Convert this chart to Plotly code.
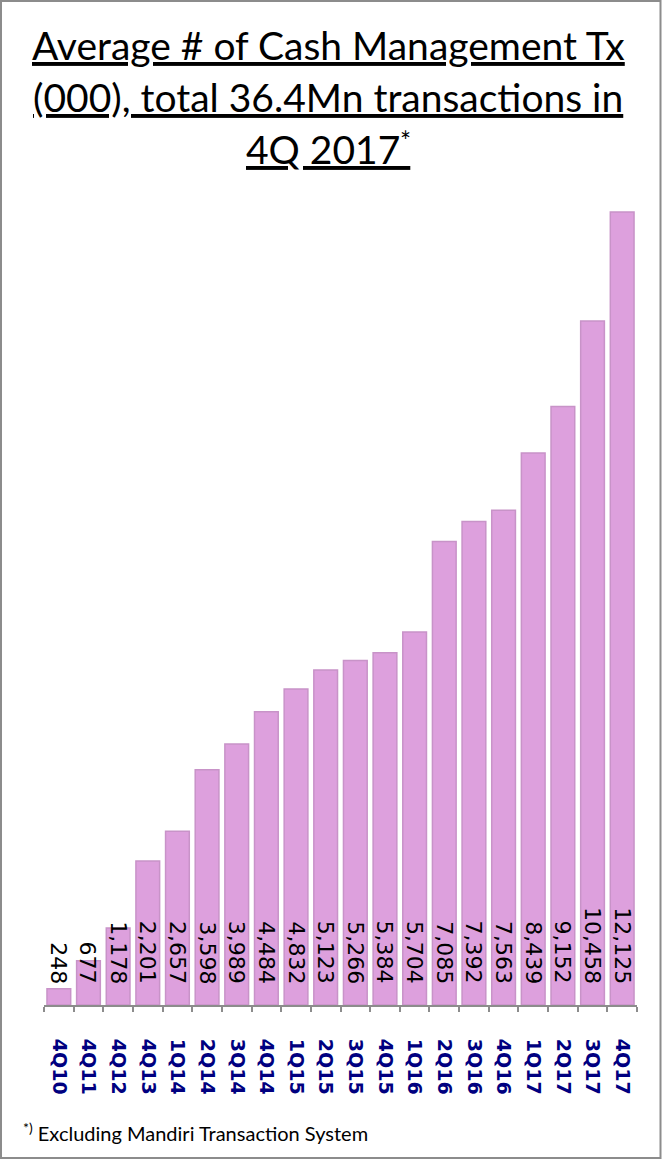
import plotly.graph_objects as go

# Quarterly average cash management transactions, in thousands
quarters = ["4Q10", "4Q11", "4Q12", "4Q13", "1Q14", "2Q14", "3Q14", "4Q14",
            "1Q15", "2Q15", "3Q15", "4Q15", "1Q16", "2Q16", "3Q16", "4Q16",
            "1Q17", "2Q17", "3Q17", "4Q17"]
transactions = [248, 677, 1178, 2201, 2657, 3598, 3989, 4484,
                4832, 5123, 5266, 5384, 5704, 7085, 7392, 7563,
                8439, 9152, 10458, 12125]

title_lines = ["Average # of Cash Management Tx",
               "(000), total 36.4Mn transactions in",
               "4Q 2017\u00a0"]
title_mark = "*"
footnote = "<sup>*)</sup> Excluding Mandiri Transaction System"

W, H = 662, 1159
ML, MR, MT, MB = 44, 25, 200, 154
PW, PH = W - ML - MR, H - MT - MB


def px_x(px):
    """pixel column -> paper x"""
    return (px - ML) / PW


def px_y(py):
    """pixel row -> paper y"""
    return (H - MB - py) / PH


fig = go.Figure()
fig.add_trace(go.Bar(
    x=quarters,
    y=transactions,
    marker=dict(color="#DDA0DD", line=dict(color="#C893C8", width=1.5)),
    width=0.8,
    hoverinfo="x+y",
))

# value labels, rotated and sitting just above the baseline
for q, v in zip(quarters, transactions):
    fig.add_annotation(
        x=q, y=0, xref="x", yref="y",
        text=f"{v:,}", textangle=90, showarrow=False,
        yanchor="bottom", xanchor="center", yshift=19,
        font=dict(family="DejaVu Sans", size=22, color="#000000"),
    )

# underlined title, one annotation per line, centred on the page
title_centres = [45, 97, 149]
for line, cy in zip(title_lines, title_centres):
    fig.add_annotation(
        x=px_x(328), xref="paper", y=px_y(cy), yref="paper",
        text=line, showarrow=False, xanchor="center", yanchor="middle",
        font=dict(family="Lato", size=39, color="#000000", lineposition="under"),
    )
fig.add_annotation(
    x=px_x(413), xref="paper", xanchor="right",
    y=px_y(141), yref="paper", yanchor="middle",
    text=title_mark, showarrow=False,
    font=dict(family="Lato", size=26, color="#000000"),
)

fig.add_annotation(
    x=px_x(21), xref="paper", xanchor="left",
    y=px_y(1132), yref="paper", yanchor="middle",
    text=footnote, showarrow=False,
    font=dict(family="Lato", size=20, color="#000000"),
)

# outer frame around the whole graphic
fig.add_shape(
    type="rect", xref="paper", yref="paper",
    x0=px_x(1), x1=px_x(660.5), y0=px_y(1158), y1=px_y(1),
    line=dict(color="#8C8C8C", width=2), fillcolor="rgba(0,0,0,0)",
)

fig.update_layout(
    width=W, height=H,
    margin=dict(l=ML, r=MR, t=MT, b=MB),
    paper_bgcolor="#FFFFFF", plot_bgcolor="#FFFFFF",
    showlegend=False,
    bargap=0.2,
    xaxis=dict(
        type="category",
        showline=True, linecolor="#8C8C8C", linewidth=2,
        ticks="outside", tickson="boundaries", ticklen=5,
        tickcolor="#8C8C8C", tickwidth=2,
        tickangle=90,
        tickfont=dict(family="DejaVu Sans", size=19, color="#000080", weight="bold"),
        ticklabelstandoff=28,
        showgrid=False, zeroline=False,
    ),
    yaxis=dict(range=[0, 12308], visible=False, showgrid=False, zeroline=False),
)

fig.write_html("out.html")
